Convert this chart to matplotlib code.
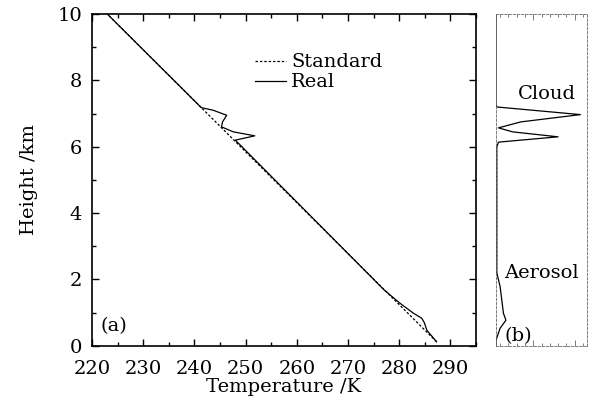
import numpy as np
import matplotlib
matplotlib.use("Agg")
import matplotlib.pyplot as plt
from matplotlib.ticker import MultipleLocator, FixedLocator, NullFormatter

plt.rcParams["font.family"] = "DejaVu Serif"
plt.rcParams["font.size"] = 14

# standard atmosphere profile (temperature K vs height km)
h_std = [0.12, 10.0]
T_std = [287.3, 223.0]

# measured ("real") profile
h_real = [10.0, 7.18, 7.10, 6.95, 6.75, 6.6, 6.45, 6.33, 6.2,
          1.7, 1.3, 0.98, 0.83, 0.7, 0.47, 0.12]
T_real = [223.0, 241.35, 243.7, 246.3, 245.5, 245.3, 247.6, 251.8, 248.0,
          276.95, 280.0, 282.8, 284.4, 284.9, 285.4, 287.3]

# panel (b) extinction-like profile, arbitrary units
h_b = [10.0, 7.25, 7.2, 6.97, 6.75, 6.57, 6.45, 6.3, 6.14, 6.0,
       2.2, 1.78, 0.98, 0.77, 0.53, 0.17, 0.0]
ext_b = [0.0, 0.0, 0.01, 1.02, 0.3, 0.03, 0.2, 0.75, 0.03, 0.01,
         0.01, 0.05, 0.09, 0.12, 0.05, 0.0, 0.0]

fig = plt.figure(figsize=(5.95, 4.03), dpi=100)
ax = fig.add_axes([0.1546, 0.142, 0.6454, 0.823])
axb = fig.add_axes([0.8336, 0.142, 0.153, 0.823])

ax.plot(T_std, h_std, "k", ls=(0, (2, 1.5)), lw=0.9, label="Standard")
ax.plot(T_real, h_real, "k-", lw=0.9, label="Real")
ax.set_xlim(220, 295)
ax.set_ylim(0, 10)
ax.xaxis.set_major_locator(FixedLocator(np.arange(220, 291, 10)))
ax.xaxis.set_minor_locator(MultipleLocator(5))
ax.yaxis.set_major_locator(MultipleLocator(2))
ax.yaxis.set_minor_locator(MultipleLocator(1))
ax.tick_params(which="both", direction="in", top=True, right=True, width=1)
ax.tick_params(which="major", length=5)
ax.tick_params(which="minor", length=3)
ax.tick_params(axis="x", which="major", pad=10)
ax.tick_params(axis="y", which="major", pad=7)
for s in ax.spines.values():
    s.set_linewidth(1.2)
ax.set_xlabel("Temperature /K", labelpad=0)
ax.set_ylabel("Height /km", labelpad=14)
ax.text(224.3, 0.6, "(a)", ha="center", va="center")
ax.legend(loc="upper left", bbox_to_anchor=(0.405, 0.905), frameon=False,
          handlelength=1.6, handletextpad=0.25, labelspacing=0.1,
          borderaxespad=0)

axb.plot(ext_b, h_b, "k-", lw=0.9)
axb.set_xlim(0, 1.1)
axb.set_ylim(0, 10)
axb.xaxis.set_major_locator(FixedLocator([0.45, 0.95]))
axb.xaxis.set_minor_locator(FixedLocator(np.arange(0.05, 1.1, 0.1)))
axb.xaxis.set_major_formatter(NullFormatter())
axb.set_yticks([])
axb.tick_params(which="both", direction="in", top=True, bottom=True,
                color="0.4", width=0.6)
axb.tick_params(which="major", length=4)
axb.tick_params(which="minor", length=2)
for s in axb.spines.values():
    s.set_linestyle((0, (3, 2)))
    s.set_linewidth(0.6)
    s.set_color("0.4")
axb.text(0.61, 7.6, "Cloud", ha="center", va="center")
axb.text(0.55, 2.2, "Aerosol", ha="center", va="center")
axb.text(0.27, 0.3, "(b)", ha="center", va="center")

fig.savefig("out.png", dpi=100)
